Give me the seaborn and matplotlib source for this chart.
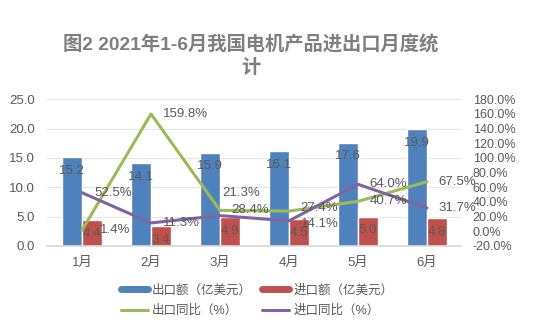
import numpy as np
import pandas as pd
import matplotlib
matplotlib.use("Agg")
import matplotlib.pyplot as plt
import seaborn as sns
from matplotlib.lines import Line2D
from matplotlib.ticker import FuncFormatter, MultipleLocator

months = ["1月", "2月", "3月", "4月", "5月", "6月"]
export_val = [15.2, 14.1, 15.9, 16.1, 17.6, 19.9]
import_val = [4.4, 3.4, 4.9, 4.5, 5.0, 4.8]
export_yoy = [1.4, 159.8, 28.4, 27.4, 40.7, 67.5]
import_yoy = [52.5, 11.3, 21.3, 14.1, 64.0, 31.7]
bar_series = ["出口额（亿美元）", "进口额（亿美元）"]
line_series = ["出口同比（%）", "进口同比（%）"]
title = "图2 2021年1-6月我国电机产品进出口月度统\n计"

sns.set_theme(style="white")
plt.rcParams["font.family"] = ["Liberation Sans", "Noto Sans CJK SC", "DejaVu Sans"]

BLUE, RED, GREEN, PURPLE = "#4F81BD", "#C0504D", "#9BBB59", "#8064A2"
TXT = "#595959"

df_bar = pd.DataFrame({
    "month": months * 2,
    "value": export_val + import_val,
    "series": [bar_series[0]] * len(months) + [bar_series[1]] * len(months),
})
df_line = pd.DataFrame({
    "pos": list(range(len(months))) * 2,
    "value": export_yoy + import_yoy,
    "series": [line_series[0]] * len(months) + [line_series[1]] * len(months),
})

fig = plt.figure(figsize=(5.41, 3.35), dpi=100)
ax = fig.add_axes([0.0878, 0.266, 0.853 - 0.0878, 0.704 - 0.266])

sns.barplot(data=df_bar, x="month", y="value", hue="series", order=months,
            hue_order=bar_series, palette=[BLUE, RED], width=0.58, gap=0,
            saturation=1, ax=ax, legend=False)
ax.set_ylim(0, 25)
ax.yaxis.set_major_locator(MultipleLocator(5))
ax.yaxis.set_major_formatter(FuncFormatter(lambda v, p: f"{v:.1f}"))
ax.set_xlim(-0.5, len(months) - 0.5)
ax.grid(axis="y", color="#E6E6E6", lw=0.8)
ax.set_axisbelow(True)
for s in ["left", "right", "top"]:
    ax.spines[s].set_visible(False)
ax.spines["bottom"].set_color("#D9D9D9")
ax.set_xlabel("")
ax.set_ylabel("")
ax.tick_params(axis="both", length=0, labelsize=9.5, labelcolor=TXT)
ax.tick_params(axis="y", pad=9)
ax.tick_params(axis="x", pad=8)

for cont in ax.containers:
    for rect in cont:
        h = rect.get_height()
        ax.annotate(f"{h:.1f}", (rect.get_x() + rect.get_width() / 2, h),
                    xytext=(0, -10), textcoords="offset points", ha="center",
                    va="center", fontsize=9.5, color=TXT)

ax2 = ax.twinx()
sns.lineplot(data=df_line, x="pos", y="value", hue="series", hue_order=line_series,
             palette=[GREEN, PURPLE], lw=2.2, ax=ax2, legend=False)
ax2.set_ylim(-20, 180)
ax2.yaxis.set_major_locator(MultipleLocator(20))
ax2.yaxis.set_major_formatter(FuncFormatter(lambda v, p: f"{v:.1f}%"))
for s in ["left", "right", "top", "bottom"]:
    ax2.spines[s].set_visible(False)
ax2.set_xlabel("")
ax2.set_ylabel("")
ax2.tick_params(axis="y", length=0, labelsize=9, labelcolor=TXT, pad=8)
ax2.set_xlim(-0.5, len(months) - 0.5)

# label offsets (points) per series/month
exp_off = [(13, 0), (8.5, 0), (8.5, 0), (8.5, 2), (8.5, 0), (8, 0)]
imp_off = [(9, 0), (8.5, 0), (2, 16), (8.5, -2.5), (8.5, 0), (8, 0)]
for vals, offs in ((export_yoy, exp_off), (import_yoy, imp_off)):
    for i, v in enumerate(vals):
        ax2.annotate(f"{v:.1f}%", (i, v), xytext=offs[i], textcoords="offset points",
                     ha="left", va="center", fontsize=9.5, color=TXT)

fig.text(0.464, 0.833, title, ha="center", va="center", fontsize=13.9,
         fontweight="bold", color="#7F7F7F", linespacing=1.35)

handles = [
    Line2D([0], [0], color=BLUE, lw=5),
    Line2D([0], [0], color=GREEN, lw=2.2),
    Line2D([0], [0], color=RED, lw=5),
    Line2D([0], [0], color=PURPLE, lw=2.2),
]
labels = [bar_series[0], line_series[0], bar_series[1], line_series[1]]
fig.legend(handles, labels, loc="center", bbox_to_anchor=(0.475, 0.102), ncol=2,
           frameon=False, fontsize=9, labelcolor=TXT, handlelength=2.2,
           handletextpad=0.3, columnspacing=0.8, labelspacing=0.65)

fig.savefig("out.png", dpi=100)
